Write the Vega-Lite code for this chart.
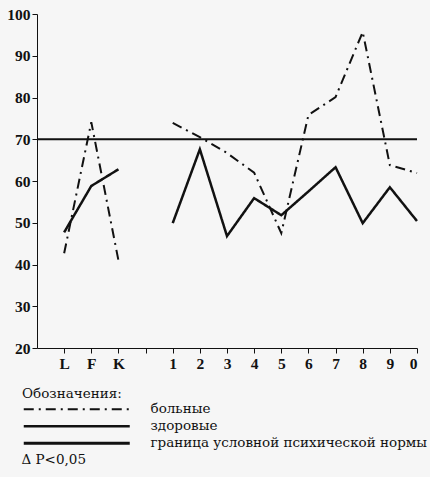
{
  "$schema": "https://vega.github.io/schema/vega-lite/v6.json",
  "width": 380,
  "height": 334,
  "autosize": {"type": "none"},
  "padding": {"left": 37, "top": 14, "right": 13, "bottom": 129},
  "background": "#f6f6f6",
  "config": {"view": {"stroke": null}, "font": "Liberation Serif"},
  "data": {"values": [
    {"series": "граница условной психической нормы", "seg": "n", "pos": 0, "v": 70},
    {"series": "больные", "seg": "a", "pos": 0, "v": 42.7},
    {"series": "больные", "seg": "a", "pos": 1, "v": 74.1},
    {"series": "больные", "seg": "a", "pos": 2, "v": 41},
    {"series": "больные", "seg": "b", "pos": 4, "v": 73.9},
    {"series": "больные", "seg": "b", "pos": 5, "v": 70.5},
    {"series": "больные", "seg": "b", "pos": 6, "v": 66.7},
    {"series": "больные", "seg": "b", "pos": 7, "v": 62},
    {"series": "больные", "seg": "b", "pos": 8, "v": 47.5},
    {"series": "больные", "seg": "b", "pos": 9, "v": 75.8},
    {"series": "больные", "seg": "b", "pos": 10, "v": 80.1},
    {"series": "больные", "seg": "b", "pos": 11, "v": 95.7},
    {"series": "больные", "seg": "b", "pos": 12, "v": 63.8},
    {"series": "больные", "seg": "b", "pos": 13, "v": 61.9},
    {"series": "здоровые", "seg": "c", "pos": 0, "v": 47.7},
    {"series": "здоровые", "seg": "c", "pos": 1, "v": 58.8},
    {"series": "здоровые", "seg": "c", "pos": 2, "v": 62.8},
    {"series": "здоровые", "seg": "d", "pos": 4, "v": 49.9},
    {"series": "здоровые", "seg": "d", "pos": 5, "v": 67.6},
    {"series": "здоровые", "seg": "d", "pos": 6, "v": 46.8},
    {"series": "здоровые", "seg": "d", "pos": 7, "v": 55.9},
    {"series": "здоровые", "seg": "d", "pos": 8, "v": 51.8},
    {"series": "здоровые", "seg": "d", "pos": 9, "v": 57.5},
    {"series": "здоровые", "seg": "d", "pos": 10, "v": 63.3},
    {"series": "здоровые", "seg": "d", "pos": 11, "v": 49.9},
    {"series": "здоровые", "seg": "d", "pos": 12, "v": 58.5},
    {"series": "здоровые", "seg": "d", "pos": 13, "v": 50.4}
  ]},
  "encoding": {
    "y": {"field": "v", "type": "quantitative",
      "scale": {"domain": [20, 100], "nice": false, "zero": false},
      "axis": {"values": [20, 30, 40, 50, 60, 70, 80, 90, 100], "grid": false, "title": null, "domainColor": "#111", "tickColor": "#111", "tickSize": 5, "labelFontSize": 15.5, "labelFontWeight": "bold", "labelColor": "#111", "labelPadding": 2, "labelFont": "Liberation Serif"}},
    "strokeDash": {"field": "series", "type": "nominal",
      "scale": {"domain": ["больные", "здоровые", "граница условной психической нормы"], "range": [[10, 5, 2, 5], [1, 0], [1, 0]]},
      "legend": {"orient": "none", "legendX": -15, "legendY": 373, "title": "Обозначения:", "titleFontSize": 13.5, "titleFontWeight": "normal", "titleFont": "DejaVu Serif", "titleColor": "#111", "titlePadding": 2,
        "labelFontSize": 13.5, "labelFont": "DejaVu Serif", "labelColor": "#111", "labelOffset": 115, "labelLimit": 400,
        "symbolType": "M-1,0H20.2", "symbolSize": 100, "symbolStrokeWidth": 2, "symbolStrokeColor": "#111", "rowPadding": 2,
        "encode": {"symbols": {"update": {"strokeWidth": {"signal": "datum.value === 'больные' ? 2 : datum.value === 'здоровые' ? 2 : 4.5"}}}}}},
    "strokeWidth": {"field": "series", "type": "nominal",
      "scale": {"domain": ["больные", "здоровые", "граница условной психической нормы"], "range": [2, 3, 2]},
      "legend": null}
  },
  "layer": [
    {"transform": [{"filter": "datum.series === 'граница условной психической нормы'"}],
     "mark": {"type": "rule", "color": "#111"},
     "encoding": {"strokeWidth": {"value": 2}}},
    {"transform": [{"filter": "datum.series !== 'граница условной психической нормы'"}],
     "mark": {"type": "line", "color": "#111"},
     "encoding": {
       "x": {"field": "pos", "type": "quantitative",
         "scale": {"domain": [-1, 13], "nice": false, "zero": false},
         "axis": {"values": [0, 1, 2, 3, 4, 5, 6, 7, 8, 9, 10, 11, 12, 13], "labelExpr": "['L','F','K','','1','2','3','4','5','6','7','8','9','0'][datum.value]", "grid": false,
           "title": "Δ P<0,05", "titleX": -16, "titleY": 111, "titleAlign": "left", "titleAnchor": "start", "titleBaseline": "middle", "titleFont": "DejaVu Serif", "titleFontSize": 13.5, "titleFontWeight": "normal", "titleColor": "#111",
           "domainColor": "#111", "tickColor": "#111", "tickSize": 5, "labelFontSize": 15.5, "labelFontWeight": "bold", "labelColor": "#111", "labelPadding": 3, "labelFont": "Liberation Serif"}},
       "detail": {"field": "seg"}}}
  ]
}
